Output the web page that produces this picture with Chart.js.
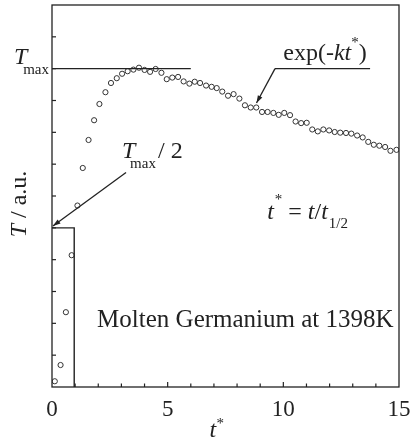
<!DOCTYPE html>
<html>
<head>
<meta charset="utf-8">
<script src="https://cdn.jsdelivr.net/npm/chart.js@4.4.1/dist/chart.umd.min.js"></script>
<style>
html,body{margin:0;padding:0;background:#fff;}
#wrap{width:410px;height:442px;position:relative;}
</style>
</head>
<body>
<div id="wrap"><canvas id="c" width="410" height="442"></canvas></div>
<script>
// reduced time t* = t / t_1/2
const tStar = [0.12,0.37,0.60,0.85,1.10,1.33,1.58,1.82,2.05,2.31,2.55,2.80,3.03,3.27,3.52,3.76,4.00,4.24,4.48,4.73,4.96,5.20,5.45,5.69,5.94,6.17,6.40,6.66,6.90,7.12,7.36,7.61,7.85,8.10,8.34,8.59,8.83,9.08,9.32,9.57,9.80,10.04,10.29,10.53,10.77,11.01,11.25,11.49,11.73,11.98,12.22,12.46,12.71,12.94,13.19,13.43,13.67,13.91,14.15,14.40,14.63,14.89];
// temperature (a.u.), Tmax = 10
const temp = [0.18,0.69,2.35,4.14,5.70,6.88,7.76,8.38,8.89,9.26,9.55,9.70,9.84,9.92,9.97,10.03,9.96,9.90,9.99,9.87,9.67,9.72,9.74,9.60,9.53,9.59,9.55,9.47,9.43,9.39,9.28,9.15,9.20,9.06,8.85,8.78,8.78,8.64,8.64,8.61,8.55,8.61,8.54,8.34,8.29,8.30,8.09,8.03,8.09,8.06,8.01,7.99,7.98,7.96,7.90,7.84,7.70,7.61,7.58,7.54,7.42,7.45];
const xTickLabels = ["0","5","10","15"];
const tMax = 10;
const xRange = [0, 15];
const yRange = [0, 12];

const SERIF = '"Liberation Serif","Times New Roman",serif';
const INK = '#222';

function f(size, italic){ return (italic ? 'italic ' : '') + size + 'px ' + SERIF; }
function rich(ctx, x, y, parts){
  let cx = x;
  for (const p of parts){
    ctx.font = p.font;
    ctx.fillText(p.t, cx, y + (p.dy || 0));
    cx += ctx.measureText(p.t).width + (p.gap || 0);
  }
}
function arrow(ctx, x1, y1, x2, y2){
  ctx.beginPath(); ctx.moveTo(x1, y1); ctx.lineTo(x2, y2); ctx.stroke();
  const a = Math.atan2(y2 - y1, x2 - x1), L = 8, W = 0.32;
  ctx.beginPath();
  ctx.moveTo(x2, y2);
  ctx.lineTo(x2 - L*Math.cos(a - W), y2 - L*Math.sin(a - W));
  ctx.lineTo(x2 - L*Math.cos(a + W), y2 - L*Math.sin(a + W));
  ctx.closePath(); ctx.fill();
}

const deco = {
  id: 'deco',
  afterDraw(chart){
    const ctx = chart.ctx, xs = chart.scales.x, ys = chart.scales.y, ca = chart.chartArea;
    const X = v => xs.getPixelForValue(v), Y = v => ys.getPixelForValue(v);
    ctx.save();
    ctx.strokeStyle = INK; ctx.fillStyle = INK; ctx.lineWidth = 1.3;
    // frame
    ctx.strokeRect(ca.left, ca.top, ca.right - ca.left, ca.bottom - ca.top);
    // inward ticks
    ctx.lineWidth = 1.2;
    for (let v = xRange[0] + 1; v < xRange[1]; v++){
      const len = v % 5 === 0 ? 5 : 3.5;
      ctx.beginPath(); ctx.moveTo(X(v), ca.bottom); ctx.lineTo(X(v), ca.bottom - len); ctx.stroke();
    }
    for (let v = yRange[0] + 1; v < yRange[1]; v++){
      ctx.beginPath(); ctx.moveTo(ca.left, Y(v)); ctx.lineTo(ca.left + 4, Y(v)); ctx.stroke();
    }
    // Tmax line
    ctx.lineWidth = 1.4;
    ctx.beginPath(); ctx.moveTo(X(0), Y(tMax)); ctx.lineTo(X(6.0), Y(tMax)); ctx.stroke();
    // Tmax/2 box
    ctx.beginPath(); ctx.moveTo(X(0), Y(tMax/2)); ctx.lineTo(X(0.96), Y(tMax/2)); ctx.lineTo(X(0.96), Y(0)); ctx.stroke();
    // exp(-kt*) leader
    ctx.beginPath(); ctx.moveTo(X(13.75), Y(tMax)); ctx.lineTo(X(9.64), Y(tMax)); ctx.stroke();
    ctx.lineWidth = 1.3;
    arrow(ctx, X(9.64), Y(tMax), X(8.84), Y(8.92));
    // Tmax/2 arrow
    arrow(ctx, X(3.2), Y(6.74), X(0.04), Y(5.06));

    ctx.textBaseline = 'alphabetic'; ctx.textAlign = 'left';
    // exp(-kt*)
    rich(ctx, X(10.0), Y(10.26), [
      {t:'exp(-', font:f(24)},
      {t:'kt', font:f(24,true)},
      {t:'*', font:f(15), dy:-13},
      {t:')', font:f(24)}
    ]);
    // Tmax / 2
    ctx.font = f(24, true); ctx.fillText('T', X(3.03), Y(7.2));
    ctx.font = f(15); ctx.fillText('max', X(3.03) + 8, Y(7.2) + 10);
    ctx.font = f(24); ctx.fillText('/ 2', X(3.03) + 36, Y(7.2));
    // t* = t/t1/2
    rich(ctx, X(9.3), Y(5.29), [
      {t:'t', font:f(24,true), gap:1},
      {t:'*', font:f(15), dy:-15},
      {t:' = ', font:f(24)},
      {t:'t', font:f(24,true)},
      {t:'/', font:f(24)},
      {t:'t', font:f(24,true), gap:1},
      {t:'1/2', font:f(15), dy:9}
    ]);
    // Molten Germanium
    ctx.font = f(25); ctx.fillText('Molten Germanium at 1398K', X(1.95), Y(1.87));
    // y-axis Tmax label
    ctx.font = f(24, true); ctx.fillText('T', 14, Y(10.15));
    ctx.font = f(15); ctx.textAlign = 'right'; ctx.fillText('max', ca.left - 3, Y(10.15) + 10);
    // y-axis title
    ctx.save();
    ctx.translate(ca.left - 26, (ca.top + ca.bottom)/2 + 8);
    ctx.rotate(-Math.PI/2);
    ctx.textAlign = 'left';
    ctx.font = f(24, true); const wT = ctx.measureText('T').width;
    ctx.font = f(24); const wR = ctx.measureText(' / a.u.').width;
    const start = -(wT + wR)/2;
    ctx.font = f(24, true); ctx.fillText('T', start, 0);
    ctx.font = f(24); ctx.fillText(' / a.u.', start + wT, 0);
    ctx.restore();
    // x-axis title t*
    ctx.textAlign = 'left';
    const tx = (ca.left + ca.right)/2 - 16;
    ctx.font = f(24, true); ctx.fillText('t', tx, 437);
    ctx.font = f(15); ctx.fillText('*', tx + 7, 428);
    ctx.restore();
  }
};

new Chart(document.getElementById('c'), {
  type: 'scatter',
  data: {
    datasets: [{
      data: tStar.map((t, i) => ({x: t, y: temp[i]})),
      pointStyle: 'circle',
      pointRadius: 2.6,
      pointBorderWidth: 1,
      borderColor: '#333',
      backgroundColor: 'rgba(255,255,255,0)'
    }]
  },
  options: {
    responsive: false,
    animation: false,
    devicePixelRatio: 1,
    layout: {padding: {top: 4, right: 11, left: 0, bottom: 0}},
    plugins: {legend: {display: false}, tooltip: {enabled: false}},
    scales: {
      x: {
        type: 'linear', min: xRange[0], max: xRange[1],
        grid: {display: false, drawTicks: false},
        border: {display: false},
        afterFit: s => { s.height = 55; s.paddingRight = 0; s.paddingLeft = 0; },
        ticks: {
          stepSize: 1, autoSkip: false, maxRotation: 0,
          padding: 9, color: INK,
          font: {family: SERIF, size: 23},
          callback: v => (v % 5 === 0 ? xTickLabels[v / 5] : '')
        }
      },
      y: {
        type: 'linear', min: yRange[0], max: yRange[1],
        grid: {display: false, drawTicks: false},
        border: {display: false},
        afterFit: s => { s.width = 52; s.paddingTop = 0; s.paddingBottom = 0; },
        ticks: {display: false, stepSize: 1}
      }
    }
  },
  plugins: [deco]
});
</script>
</body>
</html>
